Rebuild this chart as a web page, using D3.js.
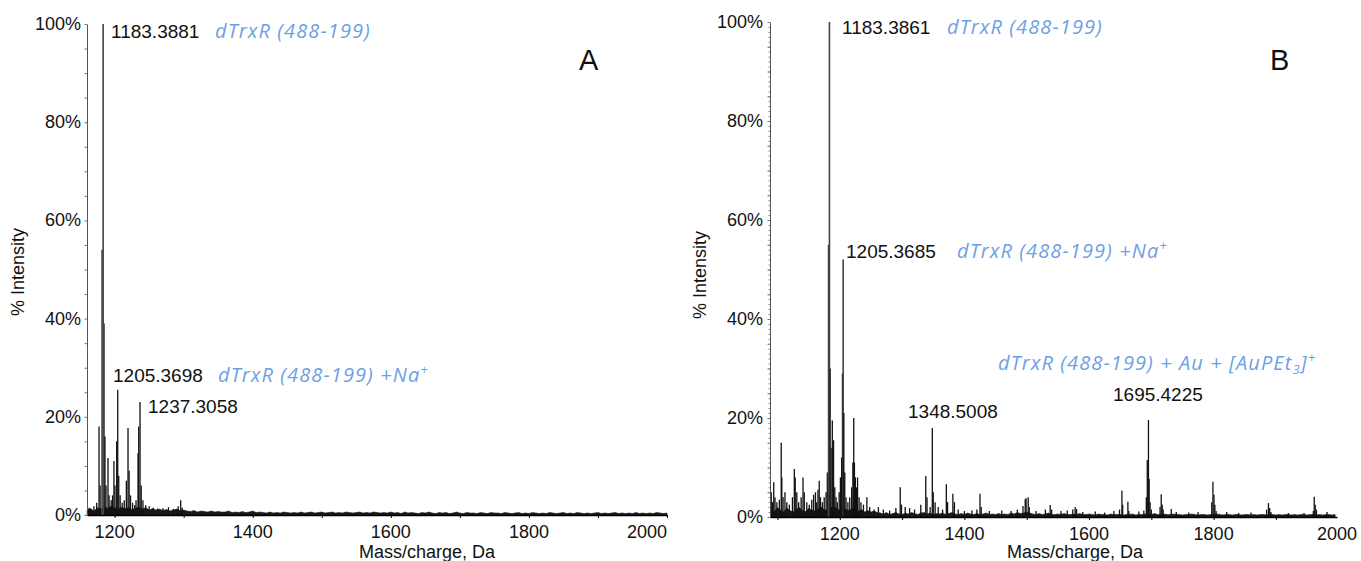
<!DOCTYPE html>
<html>
<head>
<meta charset="utf-8">
<script src="https://cdn.jsdelivr.net/npm/d3@7"></script>
<style>
  body { margin: 0; background: #fff; }
  svg { display: block; }
  text { font-family: "Liberation Sans", Arial, sans-serif; fill: #111; }
  .blue { font-family: "Open Sans", sans-serif; font-style: italic; fill: #6d9fe6; letter-spacing: 1.1px; }
</style>
</head>
<body>
<svg id="chart" width="1361" height="561"></svg>
<script>
// --- data (m/z, % intensity) ---
const peaksA = [
  [1163, 1.5], [1166, 1.2], [1170, 1.8], [1174, 2.5], [1177.4, 18], [1179, 6],
  [1181.8, 54], [1183.4, 100], [1184.7, 39], [1186, 16], [1187.5, 6], [1190.4, 11.6],
  [1192, 4], [1195, 3], [1197, 4], [1199, 11], [1200.5, 6], [1203, 15], [1204.5, 25.5],
  [1206, 8], [1208, 4], [1211, 2.5], [1214, 3], [1217, 7], [1219.4, 17.7], [1221, 9],
  [1223, 4], [1226, 2.5], [1229, 2], [1231, 3], [1233.9, 12.6], [1234.9, 18], [1236.8, 23],
  [1238.5, 6], [1241, 3], [1245, 2], [1250, 1.8], [1256, 1.5], [1262, 1.3], [1270, 1.4],
  [1278, 1.6], [1285, 1.2], [1292, 1.8], [1295.7, 3], [1298, 1.5]
];
// baseline noise, one value every 5 Da from 1160
const noiseA = [
  1.0,1.3,0.8,1.5,1.2,1.7,1.3,1.8,1.5,1.2,1.6,1.3,1.5,1.1,1.4,1.6,1.2,1.5,1.0,1.3,1.0,1.2,0.9,1.1,0.8,1.0,1.2,0.9,1.0,
  0.8,0.7,0.9,0.6,0.8,0.7,0.6,0.8,0.6,0.7,0.6,0.6,0.8,0.5,0.6,0.5,0.7,0.5,0.6,0.8,
  0.5,0.6,0.5,0.4,0.6,0.4,0.5,0.4,0.6,0.5, 0.4,0.5,0.4,0.6,0.4,0.5,0.6,0.4,0.5,0.6,
  0.4,0.5,0.6,0.4,0.5,0.4,0.6,0.5,0.4,0.5, 0.6,0.4,0.5,0.4,0.6,0.5,0.4,0.5,0.4,0.6,
  0.4,0.5,0.3,0.6,0.4,0.5,0.4,0.3,0.5,0.4, 0.6,0.4,0.3,0.5,0.4,0.5,0.3,0.4,0.6,0.4,
  0.3,0.5,0.4,0.4,0.3,0.5,0.4,0.3,0.5,0.4, 0.4,0.3,0.5,0.4,0.3,0.4,0.5,0.3,0.4,0.3,
  0.5,0.4,0.3,0.4,0.3,0.5,0.4,0.3,0.4,0.5, 0.3,0.4,0.3,0.5,0.4,0.3,0.4,0.3,0.4,0.5,
  0.3,0.4,0.3,0.4,0.5,0.3,0.4,0.3,0.4,0.3, 0.5,0.3,0.4,0.3,0.4,0.3,0.5,0.4,0.3,0.4
];

const peaksB = [
  [1090, 5], [1092, 3], [1094, 7], [1096, 4], [1099, 3], [1103, 3.5], [1106, 15], [1107, 8],
  [1109, 4], [1112, 5], [1115, 3], [1119, 2.5], [1124, 4], [1127, 9.7], [1128.5, 8], [1131, 5],
  [1134, 3], [1138, 4], [1141, 8], [1143, 5], [1147, 3], [1151, 2.5], [1155, 3.5], [1158, 4.5],
  [1161, 5], [1163, 3], [1165, 5.5], [1167, 7.3], [1169, 4], [1172, 3], [1175, 4], [1178, 5],
  [1180, 9], [1182, 55], [1183.4, 100], [1184.5, 30], [1186, 14], [1188, 19.5], [1190, 15.5],
  [1192, 6], [1194, 4], [1196, 3], [1199, 5], [1201, 8], [1203, 12], [1204.3, 29], [1205.4, 52],
  [1206.5, 21], [1208, 9], [1210, 4], [1213, 3], [1216, 4], [1219, 6], [1221, 11], [1222.4, 20],
  [1223.5, 11], [1225, 8], [1227, 6], [1228.5, 8], [1231, 4], [1234, 3], [1238, 2.5], [1243.5, 4],
  [1248, 2], [1255, 1.5], [1262, 2], [1270, 1.5], [1280, 1.3], [1290, 1.8], [1297, 6], [1299, 2.5],
  [1305, 2], [1312, 1.8], [1320, 1.5], [1330, 2.5], [1338, 8.3], [1340, 4], [1345, 2], [1348.5, 18],
  [1350, 5], [1353, 3], [1358, 2], [1365, 1.5], [1371, 6.6], [1373, 3], [1381.5, 4.7], [1384, 3],
  [1390, 1.5], [1400, 1.2], [1412, 1.3], [1420, 1.5], [1425, 4.7], [1427, 2], [1440, 1.2],
  [1460, 1.3], [1475, 1.2], [1485, 1.5], [1494, 2.2], [1497.6, 3.6], [1499, 3.8], [1502.4, 4],
  [1504, 2], [1515, 1.2], [1530, 1.5], [1537.7, 2.4], [1540, 1.5], [1555, 1.2], [1565, 1.3],
  [1574, 1.5], [1577.8, 2], [1580, 1.6], [1590, 1], [1610, 1.1], [1625, 0.9], [1640, 1.2],
  [1649, 1.5], [1652.8, 5.3], [1654, 2.5], [1662.4, 3.1], [1664, 1.2], [1680, 1.1], [1688, 1.3],
  [1692, 4], [1693.5, 11.5], [1695.4, 19.6], [1696.5, 7.7], [1698, 3], [1700, 1.5], [1714, 2],
  [1715.9, 4.6], [1717.5, 2.5], [1719, 1.5], [1732, 1.6], [1740, 1], [1760, 0.9], [1775, 1],
  [1797, 3], [1798.9, 7.1], [1800.5, 4.5], [1802, 2.5], [1804, 1.2], [1821, 1], [1840, 0.8],
  [1860, 0.9], [1885, 1.5], [1888, 2.8], [1890, 1.8], [1892, 1], [1920, 0.8], [1945, 0.8],
  [1960, 1.2], [1961.5, 4.1], [1963, 2.5], [1965, 1.5], [1982, 1]
];
// baseline noise, one value every 5 Da from 1090
const noiseB = [
  1.6,1.1,1.9,1.4,1.0,1.8,1.3,1.0,1.5,1.9, 1.3,1.1,1.7,1.4,1.2,1.6,2.0,1.5,1.3,1.8,
  2.2,1.7,1.4,1.9,1.5,1.3,1.8,1.4,1.2,1.5, 1.0,1.3,1.0,1.2,0.9,
  0.8,0.6,0.9,0.5,0.7,0.9,0.6,0.5,0.8,0.6, 0.9,0.7,0.5,0.8,0.9,0.6,0.8,0.5,0.7,0.6,
  0.8,0.5,0.7,0.9,0.6,0.5,0.7,0.5,0.8,0.6, 0.5,0.7,0.5,0.6,0.8,0.5,0.6,0.5,0.7,0.5,
  0.6,0.5,0.8,0.6,0.9,0.7,0.8,1.0,
  0.8,0.6,0.5,0.7,0.5,0.6,0.8,0.5,0.5,0.6, 0.5,0.7,0.5,0.5,0.6,0.5,0.7,0.5,0.5,0.6,
  0.5,0.4,0.6,0.5,0.5,0.4,0.6,0.5,0.5,0.5, 0.4,0.5,0.5,0.6,0.4,0.5,0.5,0.6,0.5,0.5,
  0.7,0.5,0.5,0.6,0.5,0.5,0.6,0.5,0.5,0.4, 0.5,0.5,0.6,0.5,0.4,0.5,0.5,0.4,0.5,0.5,
  0.6,0.5,0.4,0.5,0.5,0.4,0.5,0.5,0.4,0.5, 0.5,0.4,0.5,0.4,0.5,0.5,0.4,0.5,0.5,0.4,
  0.5,0.4,0.5,0.5,0.4,0.5,0.4,0.5,0.5,0.4, 0.5,0.5,0.4,0.5,0.4,0.5,0.5,0.4,0.5
];
const noiseStep = 5;

const xTickValues = [1200, 1400, 1600, 1800, 2000];
const xMinorTicks = [1100, 1200, 1300, 1400, 1500, 1600, 1700, 1800, 1900, 2000];
const yTickValues = [0, 20, 40, 60, 80, 100];

const peakLabelsA = ["1183.3881", "1205.3698", "1237.3058"];
const assignA = ["dTrxR (488-199)", "dTrxR (488-199) +Na"];
const peakLabelsB = ["1183.3861", "1205.3685", "1348.5008", "1695.4225"];
const assignB = ["dTrxR (488-199)", "dTrxR (488-199) +Na", "dTrxR (488-199) + Au + [AuPEt"];

const svg = d3.select("#chart");

function drawPanel(cfg) {
  const x = d3.scaleLinear().domain(cfg.xDomain).range(cfg.xRange);
  const y = d3.scaleLinear().domain([0, 100]).range(cfg.yRange);
  const g = svg.append("g");
  const y0 = y(0);
  const xr = cfg.xRange;

  // noise baseline, drawn as a filled band sitting on the axis
  const noisePts = cfg.noise.map((v, i) => [cfg.noiseStart + i * noiseStep, v])
    .filter(d => d[0] <= cfg.xDomain[1]);
  g.append("path")
    .datum(noisePts)
    .attr("fill", "#1a1a1a")
    .attr("stroke", "#1a1a1a")
    .attr("stroke-width", 0.6)
    .attr("d", d3.area().x(d => x(d[0])).y0(y0).y1(d => y(d[1])));

  // peaks as sticks
  g.selectAll("line.pk")
    .data(cfg.peaks)
    .join("line")
    .attr("class", "pk")
    .attr("x1", d => x(d[0])).attr("x2", d => x(d[0]))
    .attr("y1", y0).attr("y2", d => y(d[1]))
    .attr("stroke", d => d[1] > 30 ? "#444" : "#111")
    .attr("stroke-width", d => d[1] > 30 ? 1.6 : 1.3);

  // x axis
  g.append("g")
    .attr("transform", `translate(0,${y0})`)
    .call(d3.axisBottom(x).tickValues(xMinorTicks.filter(t => t >= cfg.xDomain[0] && t <= cfg.xDomain[1]))
      .tickSize(3).tickSizeOuter(0).tickFormat(""))
    .call(a => a.select(".domain").attr("stroke", "#000").attr("stroke-width", 1.6));

  g.selectAll("text.xt")
    .data(xTickValues)
    .join("text")
    .attr("class", "xt")
    .attr("x", d => Math.min(x(d), xr[1] - cfg.lastShift))
    .attr("y", y0 + 23)
    .attr("text-anchor", "middle")
    .attr("font-size", 18)
    .text(d => d);

  // y axis: 5% ticks, plus 1% ticks where the reference shows them
  if (cfg.fineTicks) {
    g.append("g")
      .attr("transform", `translate(${xr[0]},0)`)
      .call(d3.axisLeft(y).tickValues(d3.range(0, 101, 1)).tickSize(1.5).tickFormat(""))
      .call(a => a.select(".domain").remove())
      .call(a => a.selectAll(".tick line").attr("stroke", "#888"));
  }
  g.append("g")
    .attr("transform", `translate(${xr[0]},0)`)
    .call(d3.axisLeft(y).tickValues(d3.range(0, 101, 5)).tickSize(2.5).tickSizeOuter(0).tickFormat(""))
    .call(a => a.select(".domain").attr("stroke", "#555"))
    .call(a => a.selectAll(".tick line").attr("stroke", "#777"));

  g.selectAll("text.yt")
    .data(yTickValues)
    .join("text")
    .attr("class", "yt")
    .attr("x", xr[0] - cfg.yLabelGap)
    .attr("y", d => y(d) + 6)
    .attr("text-anchor", "end")
    .attr("font-size", 18)
    .text(d => d + "%");

  // axis titles
  g.append("text")
    .attr("x", cfg.xTitle[0]).attr("y", cfg.xTitle[1])
    .attr("text-anchor", "middle")
    .attr("font-size", 18)
    .text("Mass/charge, Da");
  g.append("text")
    .attr("transform", `translate(${cfg.yTitle[0]},${cfg.yTitle[1]}) rotate(-90)`)
    .attr("text-anchor", "middle")
    .attr("font-size", 18)
    .text("% Intensity");

  // panel letter
  g.append("text")
    .attr("x", cfg.letterPos[0]).attr("y", cfg.letterPos[1])
    .attr("font-size", 29)
    .text(cfg.letter);

  // peak labels
  cfg.labels.forEach((t, i) => {
    g.append("text")
      .attr("x", cfg.labelPos[i][0]).attr("y", cfg.labelPos[i][1])
      .attr("font-size", 19)
      .text(t);
  });

  // assignments (blue italic)
  cfg.assign.forEach((t, i) => {
    const p = cfg.assignPos[i];
    const txt = g.append("text")
      .attr("class", "blue")
      .attr("x", p[0]).attr("y", p[1])
      .attr("font-size", 20);
    txt.append("tspan").text(t);
    if (p[2] === "sup") {
      txt.append("tspan").attr("font-size", 13).attr("dy", -8).text("+");
    } else if (p[2] === "subsup") {
      txt.append("tspan").attr("font-size", 13).attr("dy", 4).text("3");
      txt.append("tspan").attr("font-size", 20).attr("dy", -4).text("]");
      txt.append("tspan").attr("font-size", 13).attr("dy", -8).text("+");
    }
  });
}

drawPanel({
  letter: "A",
  letterPos: [579, 70],
  xDomain: [1160, 2000], xRange: [87, 667], yRange: [515, 24],
  peaks: peaksA, noise: noiseA, noiseStart: 1160,
  lastShift: 20, yLabelGap: 6, fineTicks: false,
  xTitle: [427, 558], yTitle: [24, 272],
  labels: peakLabelsA,
  labelPos: [[111, 38], [113, 382], [148, 413]],
  assign: assignA,
  assignPos: [[215, 38, ""], [218, 382, "sup"]]
});

drawPanel({
  letter: "B",
  letterPos: [1270, 70],
  xDomain: [1088, 1998], xRange: [770, 1337], yRange: [517, 22],
  peaks: peaksB, noise: noiseB, noiseStart: 1090,
  lastShift: 0, yLabelGap: 7, fineTicks: true,
  xTitle: [1075, 558], yTitle: [706, 275],
  labels: peakLabelsB,
  labelPos: [[842, 34], [846, 258], [908, 418], [1113, 401]],
  assign: assignB,
  assignPos: [[947, 34, ""], [957, 258, "sup"], [998, 370, "subsup"]]
});
</script>
</body>
</html>
